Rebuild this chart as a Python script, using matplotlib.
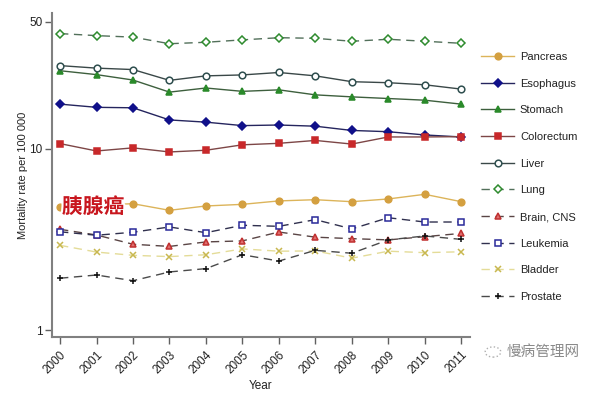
import matplotlib
matplotlib.use("Agg")
import matplotlib.pyplot as plt
import matplotlib.patches as patches
import matplotlib.patheffects as pe

plt.rcParams['font.family'] = ['Liberation Sans', 'Noto Sans CJK SC', 'DejaVu Sans']

years = list(range(2000, 2012))

pancreas   = [4.79, 4.89, 4.97, 4.57, 4.83, 4.93, 5.15, 5.23, 5.10, 5.28, 5.60, 5.10]
esophagus  = [17.6, 16.9, 16.8, 14.4, 14.0, 13.4, 13.5, 13.3, 12.6, 12.4, 11.9, 11.6]
stomach    = [26.9, 25.6, 23.9, 20.5, 21.6, 20.7, 21.1, 19.8, 19.3, 18.9, 18.5, 17.6]
colorectum = [10.66, 9.71, 10.1, 9.59, 9.8, 10.5, 10.7, 11.1, 10.6, 11.6, 11.6, 11.65]
liver      = [28.7, 27.8, 27.3, 23.8, 25.2, 25.5, 26.3, 25.2, 23.4, 23.1, 22.5, 21.3]
lung       = [43.1, 42.0, 41.2, 37.9, 38.6, 39.8, 40.9, 40.6, 39.1, 40.1, 39.1, 38.1]
brain      = [3.59, 3.34, 2.97, 2.89, 3.06, 3.10, 3.47, 3.25, 3.19, 3.14, 3.27, 3.41]
leukemia   = [3.48, 3.33, 3.46, 3.70, 3.44, 3.78, 3.73, 4.06, 3.61, 4.16, 3.94, 3.94]
bladder    = [2.93, 2.69, 2.58, 2.54, 2.60, 2.80, 2.72, 2.73, 2.49, 2.72, 2.67, 2.70]
prostate   = [1.93, 2.01, 1.87, 2.09, 2.18, 2.60, 2.40, 2.75, 2.65, 3.14, 3.30, 3.16]

fig = plt.figure(figsize=(6, 3.93), dpi=100)
ax = fig.add_axes([0.0867, 0.1425, 0.696, 0.8245])

solid = '-'
dash = (0, (6, 4))

# 名称, 数据, 线色, 线型, 标记, 标记面色, 标记边色
series = [
    ('Pancreas', pancreas, '#dcb45a', solid, 'o', '#d4a040', '#d4a040'),
    ('Esophagus', esophagus, '#25255e', solid, 'D', '#10108a', '#10108a'),
    ('Stomach', stomach, '#3d5f3d', solid, '^', '#2a8a2a', '#2a8a2a'),
    ('Colorectum', colorectum, '#7d4646', solid, 's', '#c8282a', '#c8282a'),
    ('Liver', liver, '#3a4848', solid, 'o', 'white', '#2f4f4f'),
    ('Lung', lung, '#52705a', dash, 'D', 'white', '#2e8b2e'),
    ('Brain, CNS', brain, '#5a4545', dash, '^', '#e07070', '#c03030'),
    ('Leukemia', leukemia, '#30304e', dash, 's', 'white', '#2a2a9a'),
    ('Bladder', bladder, '#e4dc98', dash, 'x', '#c8b850', '#c8b850'),
    ('Prostate', prostate, '#4a4a4a', dash, '+', '#111111', '#111111'),
]

for name, vals, lc, ls, mk, mfc, mec in series:
    ms = 4.2 if mk == 'D' else 4.8
    ax.plot(years, vals, color=lc, linestyle=ls, linewidth=1.0, marker=mk,
            markersize=ms, markerfacecolor=mfc, markeredgecolor=mec,
            markeredgewidth=1.1, label=name)

ax.set_yscale('log')
ax.set_ylim(0.915, 56)
ax.set_xlim(1999.78, 2011.23)

ax.set_yticks([1, 10, 50])
ax.set_yticklabels(['1', '10', '50'])
ax.yaxis.set_minor_locator(matplotlib.ticker.NullLocator())
ax.set_xticks(years)
ax.set_xticklabels([str(y) for y in years], rotation=45, ha='right',
                   rotation_mode='anchor')

for s in ['top', 'right']:
    ax.spines[s].set_visible(False)
for s in ['left', 'bottom']:
    ax.spines[s].set_color('#808080')
    ax.spines[s].set_linewidth(1.5)
ax.tick_params(axis='both', colors='#606060', labelcolor='#222222',
               labelsize=8.5, length=5, width=1)
ax.tick_params(axis='y', pad=2)

ax.set_xlabel('Year', fontsize=8.5, color='#222222', labelpad=3)
ax.set_ylabel('Mortality rate per 100 000', fontsize=8, color='#222222',
              labelpad=1)

leg = ax.legend(loc='upper left', bbox_to_anchor=(0.785, 0.893),
                bbox_transform=fig.transFigure, frameon=False, fontsize=8,
                labelspacing=1.5, handlelength=3.0, handletextpad=0.5)
for t in leg.get_texts():
    t.set_color('#222222')

# 胰腺癌 标注
ax.text(2000.05, pancreas[0], '胰腺癌', fontsize=15, fontweight='bold',
        color='#c8161e', family=['Noto Sans CJK SC', 'DejaVu Sans'],
        ha='left', va='center',
        path_effects=[pe.withStroke(linewidth=3, foreground='white')])

# 水印
fig.text(0.905, 1 - 352 / 393, '慢病管理网', fontsize=10.5, color='#8a8a8a',
         family=['Noto Sans CJK SC', 'DejaVu Sans'], ha='center', va='center')
circ = patches.Circle((493 / 600, 1 - 352 / 393), 0.013, transform=fig.transFigure,
                      fill=False, edgecolor='#b0b0b0', linestyle=':', linewidth=1)
fig.patches.append(circ)

plt.savefig('out.png', dpi=100)
